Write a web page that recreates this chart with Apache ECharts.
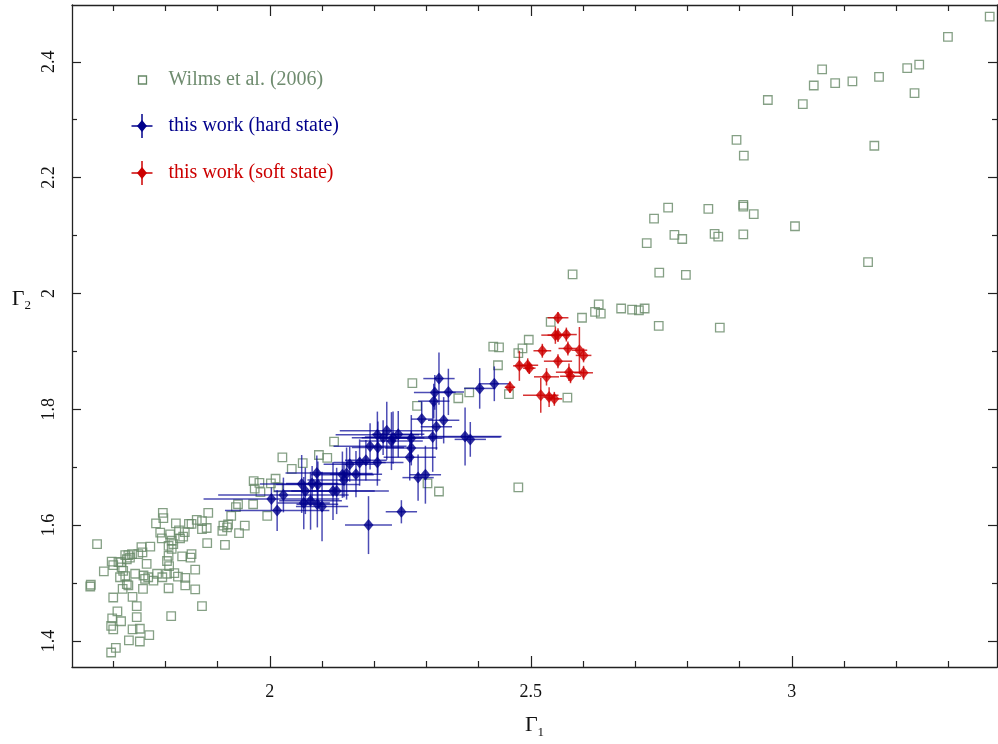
<!DOCTYPE html>
<html lang="en">
<head>
    <meta charset="utf-8" />
    <title>Gamma1 vs Gamma2</title>
    <script type="text/javascript" src="https://cdn.jsdelivr.net/npm/echarts@6/dist/echarts.min.js"></script>
    <style type="text/css">
        body { margin: 0; background: #fff; }
    </style>
</head>
<body>
    <div id="main" style="width:998px;height:744px;"></div>

    <script type="text/javascript">
        // axis range + tick values
        var xMin = 1.621, xMax = 3.393;
        var yMin = 1.355, yMax = 2.498;
        var xMajor = [2, 2.5, 3];
        var xMinor = [1.7, 1.8, 1.9, 2.1, 2.2, 2.3, 2.4, 2.6, 2.7, 2.8, 2.9, 3.1, 3.2, 3.3];
        var yMajor = [1.4, 1.6, 1.8, 2, 2.2, 2.4];
        var yMinor = [1.5, 1.7, 1.9, 2.1, 2.3];

        // Wilms et al. (2006)  [Gamma1, Gamma2]
        var wilmsPoints = [
            [3.379, 2.478], [3.299, 2.443], [3.058, 2.387], [3.244, 2.395], [3.221, 2.389],
            [3.167, 2.374], [3.116, 2.366], [3.083, 2.363], [3.042, 2.359], [3.235, 2.346],
            [2.954, 2.334], [3.021, 2.327], [2.894, 2.265], [2.908, 2.238], [3.158, 2.255],
            [2.763, 2.148], [2.736, 2.129], [2.840, 2.146], [2.907, 2.153], [2.907, 2.150],
            [2.927, 2.137], [3.006, 2.116], [2.775, 2.101], [2.790, 2.094], [2.722, 2.087],
            [2.852, 2.103], [2.859, 2.098], [2.907, 2.102], [2.746, 2.036], [2.797, 2.032],
            [3.146, 2.054], [2.580, 2.033], [2.630, 1.981], [2.623, 1.968], [2.634, 1.965],
            [2.598, 1.958], [2.673, 1.974], [2.694, 1.972], [2.707, 1.971], [2.718, 1.974],
            [2.745, 1.944], [2.862, 1.941], [2.538, 1.951], [2.496, 1.920], [2.484, 1.905],
            [2.476, 1.897], [2.428, 1.908], [2.439, 1.907], [2.437, 1.876], [2.458, 1.826],
            [2.570, 1.820], [2.273, 1.845], [2.282, 1.806], [2.361, 1.819], [2.382, 1.829],
            [2.476, 1.665], [2.302, 1.672], [2.324, 1.658], [2.123, 1.744], [2.094, 1.721],
            [2.110, 1.716], [2.063, 1.707], [2.042, 1.697], [2.024, 1.717], [1.969, 1.676],
            [1.980, 1.673], [1.971, 1.663], [1.982, 1.657], [2.002, 1.672], [2.011, 1.680],
            [2.016, 1.665], [1.968, 1.636], [1.995, 1.616], [1.939, 1.636], [1.935, 1.631],
            [1.926, 1.616], [1.952, 1.599], [1.941, 1.586], [1.882, 1.621], [1.860, 1.609],
            [1.870, 1.607], [1.850, 1.602], [1.870, 1.593], [1.879, 1.595], [1.911, 1.599],
            [1.920, 1.601], [1.918, 1.596], [1.909, 1.590], [1.880, 1.569], [1.914, 1.566],
            [1.795, 1.621], [1.796, 1.612], [1.782, 1.603], [1.820, 1.603], [1.790, 1.587],
            [1.793, 1.577], [1.809, 1.584], [1.812, 1.573], [1.815, 1.567], [1.806, 1.564],
            [1.812, 1.559], [1.826, 1.591], [1.837, 1.588], [1.845, 1.602], [1.828, 1.577],
            [1.834, 1.580], [1.806, 1.547], [1.803, 1.538], [1.803, 1.516], [1.807, 1.529],
            [1.817, 1.517], [1.832, 1.546], [1.850, 1.550], [1.848, 1.544], [1.857, 1.523],
            [1.669, 1.567], [1.656, 1.494], [1.657, 1.497], [1.682, 1.520], [1.697, 1.537],
            [1.700, 1.531], [1.710, 1.536], [1.723, 1.548], [1.729, 1.548], [1.736, 1.550],
            [1.726, 1.541], [1.732, 1.544], [1.754, 1.562], [1.771, 1.563], [1.748, 1.550],
            [1.756, 1.553], [1.715, 1.536], [1.716, 1.527], [1.719, 1.521], [1.723, 1.512],
            [1.713, 1.510], [1.726, 1.498], [1.729, 1.496], [1.742, 1.516], [1.758, 1.513],
            [1.761, 1.507], [1.767, 1.510], [1.764, 1.533], [1.777, 1.504], [1.784, 1.516],
            [1.794, 1.510], [1.806, 1.491], [1.824, 1.511], [1.838, 1.509], [1.838, 1.496],
            [1.857, 1.489], [1.757, 1.490], [1.737, 1.476], [1.718, 1.490], [1.700, 1.475],
            [1.745, 1.460], [1.745, 1.441], [1.811, 1.443], [1.870, 1.460], [1.708, 1.451],
            [1.698, 1.439], [1.696, 1.426], [1.700, 1.420], [1.715, 1.434], [1.737, 1.420],
            [1.751, 1.421], [1.730, 1.401], [1.751, 1.399], [1.769, 1.410], [1.705, 1.388],
            [1.696, 1.380]
        ];

        // this work, hard state  [Gamma1, Gamma2, errGamma1, errGamma2]
        var hardPoints = [
            [2.003, 1.645, 0.13, 0.02], [2.026, 1.652, 0.125, 0.03], [2.014, 1.625, 0.10, 0.035],
            [2.061, 1.671, 0.08, 0.05], [2.068, 1.659, 0.06, 0.04], [2.081, 1.672, 0.05, 0.03],
            [2.090, 1.690, 0.06, 0.03], [2.092, 1.670, 0.08, 0.04], [2.065, 1.638, 0.05, 0.045],
            [2.078, 1.642, 0.06, 0.05], [2.091, 1.636, 0.04, 0.04], [2.100, 1.632, 0.05, 0.06],
            [2.121, 1.659, 0.08, 0.05], [2.128, 1.659, 0.10, 0.04], [2.139, 1.687, 0.06, 0.04],
            [2.147, 1.689, 0.05, 0.045], [2.142, 1.678, 0.07, 0.03], [2.165, 1.688, 0.05, 0.04],
            [2.153, 1.705, 0.05, 0.03], [2.172, 1.708, 0.05, 0.04], [2.184, 1.712, 0.04, 0.035],
            [2.206, 1.708, 0.05, 0.04], [2.192, 1.736, 0.07, 0.04], [2.207, 1.734, 0.05, 0.045],
            [2.206, 1.756, 0.08, 0.04], [2.224, 1.763, 0.09, 0.05], [2.236, 1.751, 0.06, 0.045],
            [2.246, 1.757, 0.05, 0.04], [2.233, 1.745, 0.06, 0.05], [2.217, 1.751, 0.06, 0.03],
            [2.271, 1.750, 0.06, 0.04], [2.271, 1.733, 0.05, 0.03], [2.268, 1.717, 0.05, 0.04],
            [2.312, 1.752, 0.13, 0.06], [2.374, 1.753, 0.07, 0.05], [2.384, 1.748, 0.03, 0.03],
            [2.324, 1.853, 0.03, 0.045], [2.316, 1.829, 0.04, 0.03], [2.342, 1.830, 0.03, 0.04],
            [2.314, 1.814, 0.03, 0.03], [2.402, 1.836, 0.03, 0.035], [2.430, 1.844, 0.03, 0.03],
            [2.291, 1.783, 0.02, 0.03], [2.333, 1.781, 0.03, 0.04], [2.319, 1.770, 0.03, 0.04],
            [2.284, 1.682, 0.03, 0.04], [2.298, 1.687, 0.03, 0.05], [2.252, 1.623, 0.03, 0.02],
            [2.189, 1.600, 0.045, 0.05]
        ];

        // this work, soft state  [Gamma1, Gamma2, errGamma1, errGamma2]
        var softPoints = [
            [2.552, 1.958, 0.02, 0.01], [2.547, 1.928, 0.027, 0.015], [2.552, 1.928, 0.02, 0.012],
            [2.568, 1.929, 0.02, 0.012], [2.522, 1.901, 0.017, 0.012], [2.571, 1.905, 0.018, 0.012],
            [2.593, 1.902, 0.015, 0.04], [2.601, 1.893, 0.015, 0.012], [2.552, 1.883, 0.027, 0.012],
            [2.478, 1.875, 0.012, 0.026], [2.494, 1.876, 0.02, 0.012], [2.497, 1.871, 0.012, 0.01],
            [2.573, 1.864, 0.025, 0.015], [2.576, 1.857, 0.02, 0.012], [2.601, 1.863, 0.018, 0.012],
            [2.530, 1.856, 0.024, 0.015], [2.460, 1.838, 0.01, 0.01], [2.519, 1.824, 0.034, 0.03],
            [2.535, 1.821, 0.01, 0.017], [2.545, 1.818, 0.015, 0.012]
        ];

        var green = '#668866';
        var blue = '#00008b';
        var red = '#cc0000';
        var serif = '"Liberation Serif", "DejaVu Serif", serif';

        var myChart = echarts.init(document.getElementById('main'));

        // draws the +- error cross for one point
        function errorBars(color) {
            return function (params, api) {
                var x = api.value(0), y = api.value(1), ex = api.value(2), ey = api.value(3);
                var l = api.coord([x - ex, y]), r = api.coord([x + ex, y]);
                var b = api.coord([x, y - ey]), t = api.coord([x, y + ey]);
                var st = { stroke: color, lineWidth: 1.5 };
                return {
                    type: 'group',
                    children: [
                        { type: 'line', shape: { x1: l[0], y1: l[1], x2: r[0], y2: r[1] }, style: st },
                        { type: 'line', shape: { x1: b[0], y1: b[1], x2: t[0], y2: t[1] }, style: st }
                    ]
                };
            };
        }

        function xAxisDef(pos, ticks, len, labels, line) {
            return {
                type: 'value', position: pos, min: xMin, max: xMax,
                axisLine: { show: line, onZero: false, lineStyle: { color: '#222', width: 1.3 } },
                axisTick: { inside: true, length: len, customValues: ticks, lineStyle: { color: '#222', width: 1.2 } },
                axisLabel: labels ? { customValues: ticks, color: '#111', fontFamily: serif, fontSize: 18, margin: 16 } : { show: false },
                splitLine: { show: false }
            };
        }
        function yAxisDef(pos, ticks, len, labels, line) {
            return {
                type: 'value', position: pos, min: yMin, max: yMax,
                axisLine: { show: line, onZero: false, lineStyle: { color: '#222', width: 1.3 } },
                axisTick: { inside: true, length: len, customValues: ticks, lineStyle: { color: '#222', width: 1.2 } },
                axisLabel: labels ? { customValues: ticks, color: '#111', fontFamily: serif, fontSize: 18, margin: 14, rotate: 90 } : { show: false },
                splitLine: { show: false }
            };
        }

        var xAxes = [
            xAxisDef('bottom', xMajor, 11, true, true),
            xAxisDef('bottom', xMinor, 6, false, false),
            xAxisDef('top', xMajor, 11, false, true),
            xAxisDef('top', xMinor, 6, false, false)
        ];
        xAxes[0].name = '{g|Γ}{s|1}';
        xAxes[0].nameLocation = 'middle';
        xAxes[0].nameGap = 45;
        xAxes[0].nameTextStyle = {
            rich: {
                g: { fontFamily: serif, fontSize: 22, color: '#111' },
                s: { fontFamily: serif, fontSize: 13, color: '#111', padding: [14, 0, 0, 0] }
            }
        };

        var yAxes = [
            yAxisDef('left', yMajor, 9, true, true),
            yAxisDef('left', yMinor, 5, false, false),
            yAxisDef('right', yMajor, 9, false, true),
            yAxisDef('right', yMinor, 5, false, false)
        ];
        yAxes[0].name = '{g|Γ}{s|2}';
        yAxes[0].nameLocation = 'middle';
        yAxes[0].nameGap = 41;
        yAxes[0].nameRotate = 0;
        yAxes[0].nameTextStyle = {
            padding: [0, 0, 74, 0],
            rich: xAxes[0].nameTextStyle.rich
        };

        var option = {
            animation: false,
            backgroundColor: '#fff',
            grid: { left: 72, right: 1, top: 5, bottom: 76 },
            xAxis: xAxes,
            yAxis: yAxes,
            series: [{
                name: 'Wilms et al. (2006)',
                type: 'scatter',
                symbol: 'rect',
                symbolSize: 8.5,
                itemStyle: { color: 'rgba(0,0,0,0)', borderColor: green, borderWidth: 1.3 },
                data: wilmsPoints
            }, {
                type: 'custom',
                renderItem: errorBars('rgba(0,0,150,0.7)'),
                encode: { x: 0, y: 1 },
                data: hardPoints,
                z: 3
            }, {
                name: 'this work (hard state)',
                type: 'scatter',
                symbol: 'diamond',
                symbolSize: [10, 12],
                itemStyle: { color: blue },
                data: hardPoints,
                z: 4
            }, {
                type: 'custom',
                renderItem: errorBars('rgba(204,0,0,0.8)'),
                encode: { x: 0, y: 1 },
                data: softPoints,
                z: 3
            }, {
                name: 'this work (soft state)',
                type: 'scatter',
                symbol: 'diamond',
                symbolSize: [10, 12],
                itemStyle: { color: red },
                data: softPoints,
                z: 4
            }],
            // legend box drawn by hand, upper left
            graphic: [{
                type: 'group', left: 129, top: 70,
                children: [
                    { type: 'rect', shape: { x: 8, y: 11, width: 8, height: 8 }, style: { fill: 'none', stroke: green, lineWidth: 1.3 } },
                    { type: 'text', x: 38, y: 15, style: { text: 'Wilms et al. (2006)', fill: '#6f8c6f', font: '20px ' + serif, verticalAlign: 'middle' } },

                    { type: 'line', shape: { x1: 1, y1: 61, x2: 22, y2: 61 }, style: { stroke: blue, lineWidth: 1.5 } },
                    { type: 'line', shape: { x1: 11.5, y1: 49, x2: 11.5, y2: 73 }, style: { stroke: blue, lineWidth: 1.5 } },
                    { type: 'polygon', shape: { points: [[11.5, 55], [16.5, 61], [11.5, 67], [6.5, 61]] }, style: { fill: blue } },
                    { type: 'text', x: 38, y: 61, style: { text: 'this work (hard state)', fill: blue, font: '20px ' + serif, verticalAlign: 'middle' } },

                    { type: 'line', shape: { x1: 1, y1: 108, x2: 22, y2: 108 }, style: { stroke: red, lineWidth: 1.5 } },
                    { type: 'line', shape: { x1: 11.5, y1: 96, x2: 11.5, y2: 120 }, style: { stroke: red, lineWidth: 1.5 } },
                    { type: 'polygon', shape: { points: [[11.5, 102], [16.5, 108], [11.5, 114], [6.5, 108]] }, style: { fill: red } },
                    { type: 'text', x: 38, y: 108, style: { text: 'this work (soft state)', fill: red, font: '20px ' + serif, verticalAlign: 'middle' } }
                ]
            }]
        };
        myChart.setOption(option, true);
    </script>
</body>
</html>
